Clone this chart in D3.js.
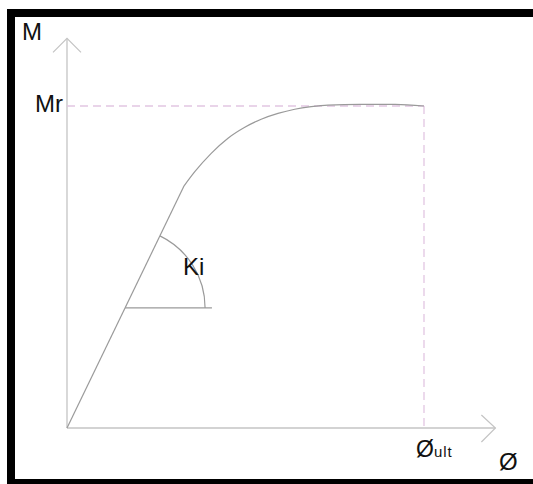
<!DOCTYPE html>
<html>
<head>
<meta charset="utf-8">
<script src="https://cdn.jsdelivr.net/npm/d3@7"></script>
<style>
  html, body { margin: 0; padding: 0; background: #fff; }
  svg { display: block; }
  text { font-family: "Liberation Sans", Arial, sans-serif; fill: #111; }
</style>
</head>
<body>
<script>
// Moment–curvature diagram, normalised: φ / φult and M / Mr.
const elasticPhi = [0, 0.328];
const elasticM   = [0, 0.752];
const plasticPhi = [0.328, 0.358, 0.404, 0.451, 0.498, 0.544, 0.591, 0.638, 0.684, 0.731, 0.821, 0.919, 1.0];
const plasticM   = [0.752, 0.796, 0.853, 0.900, 0.934, 0.959, 0.977, 0.990, 0.998, 1.003, 1.005, 1.005, 1.0];
const phiUlt = 1.0;
const mR = 1.0;
const axisExtent = [1.2, 1.21];   // how far the axes run past φult and Mr
const kiLevel = 0.373;            // height of the Ki reference line
const kiLineEnd = 0.406;          // where the Ki reference line stops

const W = 533, H = 484;
const svg = d3.select("body").append("svg").attr("width", W).attr("height", H);

// frame
svg.append("rect").attr("x", 7).attr("y", 9).attr("width", 8).attr("height", H - 9).attr("fill", "#000");
svg.append("rect").attr("x", 7).attr("y", 9).attr("width", W - 7).attr("height", 8).attr("fill", "#000");
svg.append("rect").attr("x", 7).attr("y", 479).attr("width", W - 7).attr("height", 5).attr("fill", "#000");

const x = d3.scaleLinear().domain([0, phiUlt]).range([67, 424]);
const y = d3.scaleLinear().domain([0, mR]).range([428, 106]);

const axisColor = "#c4c4c4";
const g = svg.append("g");

// axes with open arrowheads
const xEnd = x(axisExtent[0]), yEnd = y(axisExtent[1]);
g.append("line").attr("x1", x(0)).attr("y1", y(0)).attr("x2", xEnd).attr("y2", y(0))
  .attr("stroke", axisColor).attr("stroke-width", 1.3);
g.append("line").attr("x1", x(0)).attr("y1", y(0)).attr("x2", x(0)).attr("y2", yEnd)
  .attr("stroke", axisColor).attr("stroke-width", 1.3);
g.append("path")
  .attr("d", `M${xEnd - 14},${y(0) - 13}L${xEnd},${y(0)}L${xEnd - 14},${y(0) + 14}`)
  .attr("fill", "none").attr("stroke", axisColor).attr("stroke-width", 1.2);
g.append("path")
  .attr("d", `M${x(0) - 14},${yEnd + 14}L${x(0)},${yEnd}L${x(0) + 14},${yEnd + 14}`)
  .attr("fill", "none").attr("stroke", axisColor).attr("stroke-width", 1.2);

// Mr and φult guides
const dashColor = "#e2c6e2";
g.append("line").attr("x1", x(0)).attr("y1", y(mR)).attr("x2", x(phiUlt)).attr("y2", y(mR))
  .attr("stroke", dashColor).attr("stroke-width", 1.3).attr("stroke-dasharray", "8,5");
g.append("line").attr("x1", x(phiUlt)).attr("y1", y(mR)).attr("x2", x(phiUlt)).attr("y2", y(0))
  .attr("stroke", dashColor).attr("stroke-width", 1.3).attr("stroke-dasharray", "8,5");

// M–φ curve: linear elastic branch then smooth plastic branch
const curveColor = "#9a9a9a";
g.append("path")
  .attr("d", d3.line().x(d => x(d[0])).y(d => y(d[1]))(d3.zip(elasticPhi, elasticM)))
  .attr("fill", "none").attr("stroke", curveColor).attr("stroke-width", 1.2);
g.append("path")
  .attr("d", d3.line().x(d => x(d[0])).y(d => y(d[1])).curve(d3.curveMonotoneX)(d3.zip(plasticPhi, plasticM)))
  .attr("fill", "none").attr("stroke", curveColor).attr("stroke-width", 1.2);

// initial stiffness Ki: horizontal reference and angle arc
const slope = elasticM[1] / elasticPhi[1];
const kiPhi = kiLevel / slope;
const cx = x(kiPhi), cy = y(kiLevel);
g.append("line").attr("x1", cx).attr("y1", cy).attr("x2", x(kiLineEnd)).attr("y2", cy)
  .attr("stroke", curveColor).attr("stroke-width", 1.2);
const p1 = [x(elasticPhi[1]), y(elasticM[1])];
const ang = Math.atan2(cy - p1[1], p1[0] - cx);
const r = 80;
g.append("path")
  .attr("d", `M${cx + r * Math.cos(ang)},${cy - r * Math.sin(ang)}A${r},${r} 0 0 1 ${cx + r},${cy}`)
  .attr("fill", "none").attr("stroke", curveColor).attr("stroke-width", 1.2);

// labels
const fs = 24;
svg.append("text").attr("x", 22).attr("y", 40).attr("font-size", fs).text("M");
svg.append("text").attr("x", 35).attr("y", 112).attr("font-size", fs).text("Mr");
svg.append("text").attr("x", 183).attr("y", 275).attr("font-size", fs).text("Ki");
const ult = svg.append("text").attr("x", x(phiUlt) - 8).attr("y", 457).attr("font-size", 23);
ult.append("tspan").text("Ø");
ult.append("tspan").attr("font-size", 15).attr("letter-spacing", 1).text("ult");
svg.append("text").attr("x", 499).attr("y", 470).attr("font-size", fs).text("Ø");
</script>
</body>
</html>
